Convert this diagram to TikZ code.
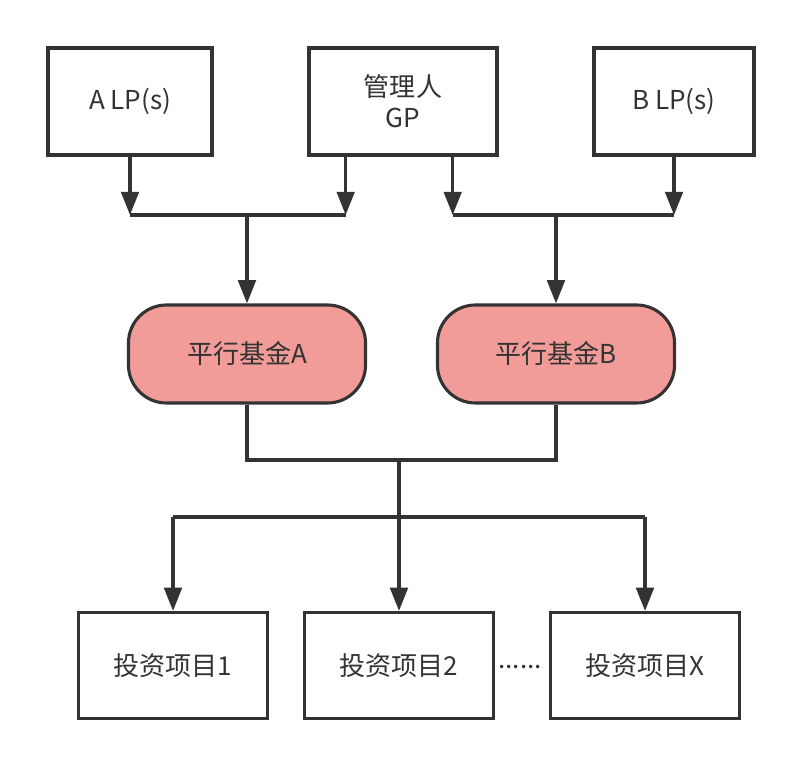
\documentclass[tikz,border=0pt]{standalone}
\usepackage{fontspec}
\setmainfont{Noto Sans CJK SC}
\usepackage{xcolor}
\usetikzlibrary{arrows.meta,positioning,calc}
\definecolor{inkgray}{HTML}{333333}
\definecolor{fundred}{HTML}{F19C99}

\begin{document}
\begin{tikzpicture}[x=0.025cm,y=-0.025cm,>={Triangle[length=0.58cm,width=0.44cm]},
  line width=2.2pt,draw=inkgray,
  txt/.style={text=inkgray,font=\fontsize{18.5pt}{22pt}\selectfont},
  holderbox/.style={txt,draw=inkgray,line width=2.2pt,fill=white,minimum height=2.675cm,inner sep=0pt,align=center},
  fundbox/.style={txt,draw=inkgray,line width=2.2pt,fill=fundred,minimum width=5.925cm,minimum height=2.45cm,rounded corners=0.95cm,inner sep=0pt},
  projbox/.style={txt,draw=inkgray,line width=2.2pt,fill=white,minimum width=4.725cm,minimum height=2.65cm,inner sep=0pt}]
  \useasboundingbox (0,0) rectangle (803,767);
  % investors and manager
  \node[holderbox,minimum width=4.1cm] (alp) at (130,101.5) {A LP(s)};
  \node[holderbox,minimum width=4.7cm] (gp) at (403,101.5) {管理人\\GP};
  \node[holderbox,minimum width=4.0cm] (blp) at (674,101.5) {B LP(s)};
  % parallel funds
  \node[fundbox] (funda) at (247,354) {平行基金A};
  \node[fundbox] (fundb) at (556,354) {平行基金B};
  % projects
  \node[projbox] (p1) at (173,665.5) {投资项目1};
  \node[projbox] (p2) at (399,665.5) {投资项目2};
  \node[projbox] (px) at (645,665.5) {投资项目X};
  \node[txt] (dots) at (520,667) {......};
  % junctions
  \coordinate (ja) at (247,215);
  \coordinate (jb) at (556,215);
  \coordinate (jm) at (399,460);
  \coordinate (jp) at (399,517);
  \coordinate (gpl) at ($(gp.south west)!0.2!(gp.south east)$);
  \coordinate (gpr) at ($(gp.south west)!0.76!(gp.south east)$);
  % fund A side
  \draw[->] (alp.south) -- (alp.south |- ja);
  \draw[->] (gpl) -- (gpl |- ja);
  \draw (alp.south |- ja) -- (gpl |- ja);
  \draw[->] (ja) -- (funda.north);
  % fund B side
  \draw[->] (gpr) -- (gpr |- jb);
  \draw[->] (blp.south) -- (blp.south |- jb);
  \draw (gpr |- jb) -- (blp.south |- jb);
  \draw[->] (jb) -- (fundb.north);
  % funds to projects
  \draw (funda.south) -- (funda.south |- jm) -- (fundb.south |- jm) -- (fundb.south);
  \draw[->] (jm) -- (p2.north);
  \draw (p1.north |- jp) -- (px.north |- jp);
  \draw[->] (p1.north |- jp) -- (p1.north);
  \draw[->] (px.north |- jp) -- (px.north);
\end{tikzpicture}
\end{document}
